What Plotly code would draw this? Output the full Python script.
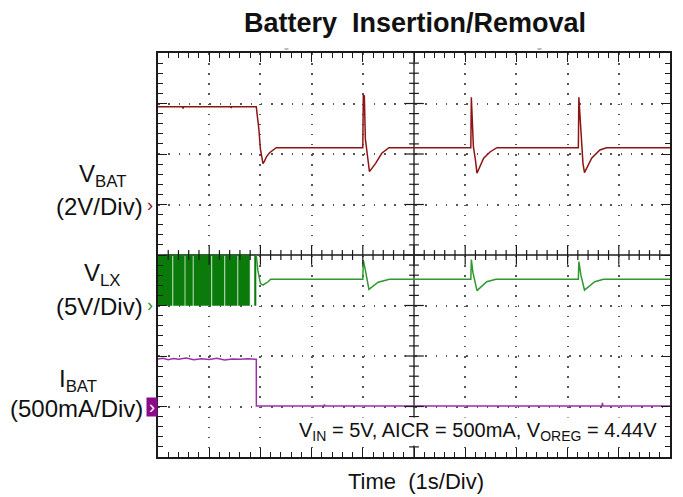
import numpy as np
import plotly.graph_objects as go

# ---------------- data (seconds, volts, mA) ----------------
VBAT_SCALE, VBAT_OFFSET = 2.0, 1.0      # 2V/Div, ground marker 1 div above centre
VLX_SCALE, VLX_OFFSET = 5.0, -1.0       # 5V/Div
IBAT_SCALE, IBAT_OFFSET = 500.0, -3.0   # 500mA/Div

vbat_t = [0.0, 0.48, 0.49, 0.50, 1.42, 1.43, 1.44, 1.92, 1.94, 1.97, 2.00, 2.03, 2.05, 2.08, 2.12, 2.18, 2.25, 2.31,
          4.00, 4.01, 4.03, 4.05, 4.09, 4.13, 4.25, 4.37, 4.51,
          6.11, 6.12, 6.135, 6.16, 6.20, 6.23, 6.36, 6.49, 6.62,
          8.21, 8.22, 8.24, 8.26, 8.30, 8.33, 8.47, 8.63, 8.76, 10.0]
vbat_v = [3.87, 3.87, 3.80, 3.87, 3.87, 3.82, 3.87, 3.87, 3.50, 3.00, 2.20, 1.75, 1.62, 1.72, 1.90, 2.05, 2.15, 2.25,
          2.25, 4.34, 4.30, 2.60, 1.95, 1.30, 1.63, 2.03, 2.25,
          2.25, 4.25, 3.50, 2.29, 1.76, 1.24, 1.83, 2.09, 2.25,
          2.25, 4.25, 3.60, 2.55, 1.63, 1.26, 1.83, 2.16, 2.25, 2.25]

# switching bursts of VLX while charging (start, end in s), swinging 0 V .. 5 V
vlx_burst_start = [0.00, 0.30, 0.54, 0.70, 1.06, 1.315, 1.57, 1.885]
vlx_burst_end = [0.275, 0.515, 0.675, 1.035, 1.29, 1.545, 1.79, 1.915]
vlx_burst_low, vlx_burst_high = 0.0, 5.0

vlx_t = [1.92, 1.95, 2.00, 2.05, 2.15, 2.20,
         4.00, 4.01, 4.05, 4.12, 4.30, 4.45, 4.52,
         6.11, 6.12, 6.15, 6.23, 6.42, 6.60,
         8.21, 8.22, 8.26, 8.33, 8.53, 8.70, 10.0]
vlx_v = [5.00, 3.50, 2.20, 2.03, 2.35, 2.60,
         2.60, 4.50, 3.50, 1.60, 2.30, 2.55, 2.60,
         2.60, 4.55, 3.30, 1.47, 2.36, 2.60,
         2.60, 4.35, 3.00, 1.53, 2.36, 2.60, 2.60]

ibat_t = [0.0, 0.10, 0.20, 0.30, 0.40, 0.55, 0.70, 0.85, 1.00, 1.15, 1.30, 1.45, 1.60, 1.75, 1.90, 1.92, 1.921,
          3.24, 3.25, 3.26, 8.67, 8.68, 8.69, 10.0]
ibat_ma = [470, 478, 462, 474, 468, 480, 463, 472, 466, 477, 461, 470, 467, 474, 467, 467, 5,
           5, 20, 5, 5, 35, 5, 5]

TITLE = "Battery\u00a0 Insertion/Removal"
XLABEL = "Time\u00a0 (1s/Div)"
CH_LABELS = ["V<sub>BAT</sub>", "V<sub>LX</sub>", "I<sub>BAT</sub>"]
CH_SCALES = ["(2V/Div)", "(5V/Div)", "(500mA/Div)"]
NOTE = "V<sub>IN</sub> = 5V, AICR = 500mA, V<sub>OREG</sub> = 4.44V"

# ---------------- figure ----------------
W, H = 683, 497
ML, MR, MT, MB = 158, 11, 53, 40
PW, PH = W - ML - MR, H - MT - MB
FONT = "Liberation Sans, Arial, sans-serif"

def to_div(vals, scale, offset):
    return [offset + v / scale for v in vals]

fig = go.Figure()

# VLX switching bursts
bx, by = [], []
for a, b in zip(vlx_burst_start, vlx_burst_end):
    lo, hi = VLX_OFFSET + vlx_burst_low / VLX_SCALE, VLX_OFFSET + vlx_burst_high / VLX_SCALE
    bx += [a, a, b, b, a, None]
    by += [lo, hi, hi, lo, lo, None]
fig.add_trace(go.Scatter(x=bx, y=by, mode="lines", fill="toself", fillcolor="#0a7a0a",
                         line=dict(color="#0a7a0a", width=0.5), hoverinfo="skip"))

fig.add_trace(go.Scatter(x=vlx_t, y=to_div(vlx_v, VLX_SCALE, VLX_OFFSET), mode="lines",
                         line=dict(color="#2f982f", width=1.5)))
fig.add_trace(go.Scatter(x=vbat_t, y=to_div(vbat_v, VBAT_SCALE, VBAT_OFFSET), mode="lines",
                         line=dict(color="#8e1414", width=1.5)))
fig.add_trace(go.Scatter(x=ibat_t, y=to_div(ibat_ma, IBAT_SCALE, IBAT_OFFSET), mode="lines",
                         line=dict(color="#9a30a8", width=1.5)))

# centre cross-hair ticks
minor_x = [v for v in np.round(np.arange(0, 10.001, 0.2), 3) if abs(v - round(v)) > 1e-6]
major_x = list(range(1, 10))
minor_y = [v for v in np.round(np.arange(-4, 4.001, 0.2), 3) if abs(v - round(v)) > 1e-6]
major_y = list(range(-3, 4))
tick_col = "#1a1a1a"
fig.add_trace(go.Scatter(x=minor_x, y=[0] * len(minor_x), mode="markers", hoverinfo="skip",
                         marker=dict(symbol="line-ns", size=7, line=dict(width=1.2, color=tick_col))))
fig.add_trace(go.Scatter(x=major_x, y=[0] * len(major_x), mode="markers", hoverinfo="skip",
                         marker=dict(symbol="line-ns", size=14, line=dict(width=1.2, color=tick_col))))
fig.add_trace(go.Scatter(x=[5] * len(minor_y), y=minor_y, mode="markers", hoverinfo="skip",
                         marker=dict(symbol="line-ew", size=7, line=dict(width=1.2, color=tick_col))))
fig.add_trace(go.Scatter(x=[5] * len(major_y), y=major_y, mode="markers", hoverinfo="skip",
                         marker=dict(symbol="line-ew", size=14, line=dict(width=1.2, color=tick_col))))

fig.add_shape(type="line", x0=5, x1=5, y0=-4, y1=4, line=dict(color=tick_col, width=1.3), layer="below")
fig.add_shape(type="line", x0=0, x1=10, y0=0, y1=0, line=dict(color=tick_col, width=1.3), layer="below")

# small trigger marks above the frame
for px in (287, 541):
    fig.add_shape(type="line", xref="paper", yref="paper",
                  x0=(px - 2 - ML) / PW, x1=(px + 2 - ML) / PW, y0=1 + 4 / PH, y1=1 + 4 / PH,
                  line=dict(color="#777", width=1))

axis_common = dict(showline=True, linecolor="#1a1a1a", linewidth=1.5, mirror="allticks",
                   ticks="inside", ticklen=9, tickwidth=1.2, tickcolor=tick_col,
                   showticklabels=False, zeroline=False, showgrid=True,
                   gridcolor="#555555", gridwidth=1.5)
fig.update_xaxes(range=[0, 10], tick0=0, dtick=1, griddash="1.5px,8.6px",
                 minor=dict(dtick=0.2, tick0=0, ticks="inside", ticklen=5, tickwidth=1.2,
                            tickcolor=tick_col, showgrid=False),
                 **axis_common)
fig.update_yaxes(range=[-4, 4], tick0=0, dtick=1, griddash="1.5px,8.78px",
                 minor=dict(dtick=0.2, tick0=0, ticks="inside", ticklen=5, tickwidth=1.2,
                            tickcolor=tick_col, showgrid=False),
                 **axis_common)

def px_x(p):
    return (p - ML) / PW

def px_y(p):
    return 1 - (p - MT) / PH

ann = []
ann.append(dict(text="<b>" + TITLE + "</b>", x=px_x(416), y=px_y(23), xref="paper", yref="paper",
                showarrow=False, xanchor="center", yanchor="middle", font=dict(size=27, color="#111", family=FONT)))
ann.append(dict(text=XLABEL, x=px_x(417), y=px_y(481), xref="paper", yref="paper",
                showarrow=False, xanchor="center", yanchor="middle", font=dict(size=22, color="#111", family=FONT)))
ann.append(dict(text=NOTE, x=px_x(661), y=px_y(431), xref="paper", yref="paper", bgcolor="white",
                borderpad=1, showarrow=False, xanchor="right", yanchor="middle",
                font=dict(size=20, color="#111", family=FONT)))

label_centres = [102, 102, 78]
label_y = [175, 274, 380]
scale_y = [206, 306, 408]
marker_cols = ["#8e1414", "#2f982f", "#8a0a8a"]
for i in range(3):
    ann.append(dict(text=CH_LABELS[i], x=px_x(label_centres[i]), y=px_y(label_y[i]), xref="paper", yref="paper",
                    showarrow=False, xanchor="center", yanchor="middle",
                    font=dict(size=24, color="#111", family=FONT)))
    ann.append(dict(text=CH_SCALES[i], x=px_x(145), y=px_y(scale_y[i]), xref="paper", yref="paper",
                    showarrow=False, xanchor="right", yanchor="middle",
                    font=dict(size=24, color="#111", family=FONT)))
# channel markers
ann.append(dict(text="›", x=px_x(150), y=px_y(205), xref="paper", yref="paper", showarrow=False,
                xanchor="center", yanchor="middle", font=dict(size=18, color=marker_cols[0], family=FONT)))
ann.append(dict(text="›", x=px_x(150), y=px_y(305), xref="paper", yref="paper", showarrow=False,
                xanchor="center", yanchor="middle", font=dict(size=18, color=marker_cols[1], family=FONT)))
ann.append(dict(text="›", x=px_x(152), y=px_y(407), xref="paper", yref="paper", showarrow=False,
                xanchor="center", yanchor="middle", width=10, height=18, bgcolor=marker_cols[2], borderpad=0,
                font=dict(size=18, color="white", family=FONT)))

fig.update_layout(width=W, height=H, margin=dict(l=ML, r=MR, t=MT, b=MB),
                  paper_bgcolor="white", plot_bgcolor="white", showlegend=False,
                  annotations=ann)

fig.write_html("out.html")
